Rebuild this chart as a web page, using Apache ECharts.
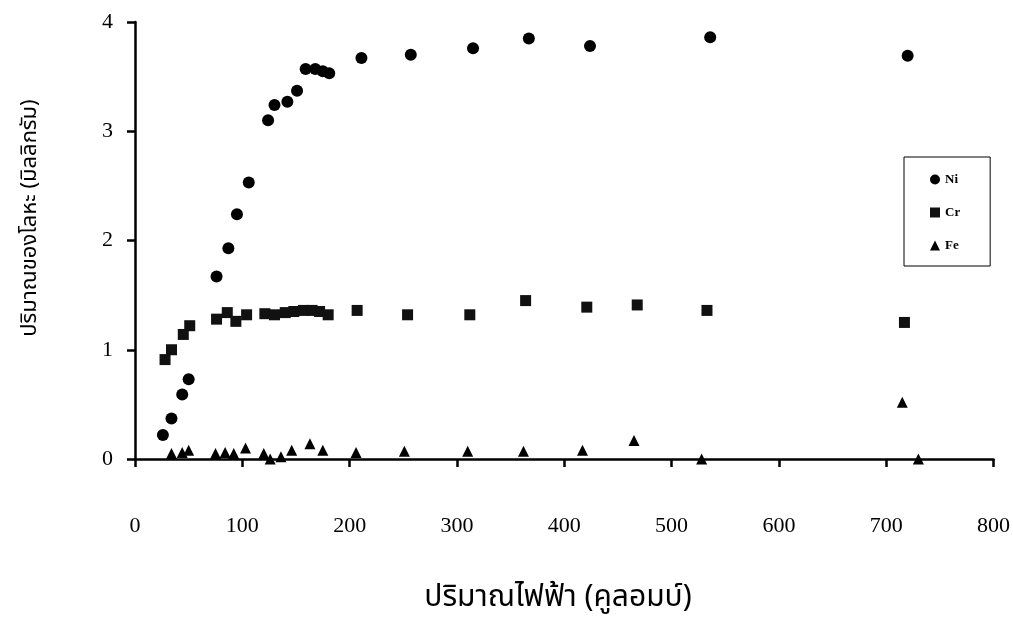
<!DOCTYPE html>
<html>
<head>
<meta charset="utf-8">
<script src="https://cdn.jsdelivr.net/npm/echarts@6/dist/echarts.min.js"></script>
<style>
  html, body { margin: 0; padding: 0; background: #fff; }
  #chart { width: 1013px; height: 618px; }
</style>
</head>
<body>
<div id="chart"></div>
<script>
// Ni (circles)
const niX = [26, 34, 44, 50, 76, 87, 95, 106, 124, 130, 142, 151, 159, 168, 175, 181, 211, 257, 315, 367, 424, 536, 720]
const niY = [0.22, 0.37, 0.59, 0.73, 1.67, 1.93, 2.24, 2.53, 3.10, 3.24, 3.27, 3.37, 3.57, 3.57, 3.55, 3.53, 3.67, 3.70, 3.76, 3.85, 3.78, 3.86, 3.69]
// Cr (squares)
const crX = [28, 34, 45, 51, 76, 86, 94, 104, 121, 130, 140, 148, 157, 165, 172, 180, 207, 254, 312, 364, 421, 468, 533, 717]
const crY = [0.91, 1.00, 1.14, 1.22, 1.28, 1.34, 1.26, 1.32, 1.33, 1.32, 1.34, 1.35, 1.36, 1.36, 1.35, 1.32, 1.36, 1.32, 1.32, 1.45, 1.39, 1.41, 1.36, 1.25]
// Fe (triangles)
const feX = [34, 44, 50, 75, 84, 92, 103, 120, 126, 136, 146, 163, 175, 206, 251, 310, 362, 417, 465, 528, 715, 730]
const feY = [0.05, 0.06, 0.08, 0.05, 0.06, 0.05, 0.10, 0.05, 0.00, 0.02, 0.08, 0.14, 0.08, 0.06, 0.07, 0.07, 0.07, 0.08, 0.17, 0.00, 0.52, 0.00]

const xTitle = 'ปริมาณไฟฟ้า (คูลอมบ์)'
const yTitle = 'ปริมาณของโลหะ (มิลลิกรัม)'

const pairs = (xs, ys) => xs.map((x, i) => [x, ys[i]])

const chart = echarts.init(document.getElementById('chart'))

const tickFont = {
  fontFamily: 'Liberation Serif, Times New Roman, serif',
  fontSize: 22,
  color: '#000'
}
const thaiFont = "'Noto Sans Thai', 'Noto Serif Thai', Loma, Garuda, 'Noto Sans', sans-serif"

const option = {
  backgroundColor: '#fff',
  animation: false,
  grid: { left: 135, right: 18, top: 22, bottom: 159 },
  legend: {
    orient: 'vertical',
    left: 904,
    top: 157,
    padding: [16, 30, 14, 26],
    itemGap: 20,
    itemWidth: 10,
    itemHeight: 10,
    borderColor: '#000',
    borderWidth: 1,
    textStyle: {
      fontFamily: 'Liberation Serif, serif',
      fontWeight: 'bold',
      fontSize: 13,
      color: '#000'
    },
    data: ['Ni', 'Cr', 'Fe']
  },
  graphic: [
    {
      type: 'text', x: 558, y: 600,
      style: {
        text: xTitle, font: '30px ' + thaiFont, fill: '#000',
        textAlign: 'center', textVerticalAlign: 'middle'
      }
    },
    {
      type: 'text', x: 32, y: 218, rotation: Math.PI / 2,
      style: {
        text: yTitle, font: '22px ' + thaiFont, fill: '#000',
        textAlign: 'center', textVerticalAlign: 'middle'
      }
    }
  ],
  xAxis: {
    type: 'value',
    min: 0,
    max: 800,
    interval: 100,
    splitLine: { show: false },
    axisLine: { lineStyle: { color: '#000', width: 2.5 } },
    axisTick: { length: 8, lineStyle: { color: '#000', width: 2.5 } },
    axisLabel: Object.assign({ margin: 56 }, tickFont)
  },
  yAxis: {
    type: 'value',
    min: 0,
    max: 4,
    interval: 1,
    splitLine: { show: false },
    axisLine: { lineStyle: { color: '#000', width: 2.5 } },
    axisTick: { length: 8, lineStyle: { color: '#000', width: 2.5 } },
    axisLabel: Object.assign({ margin: 22 }, tickFont)
  },
  series: [
    {
      name: 'Ni', type: 'scatter', symbol: 'circle', symbolSize: 12,
      itemStyle: { color: '#000', opacity: 1 },
      data: pairs(niX, niY)
    },
    {
      name: 'Cr', type: 'scatter', symbol: 'rect', symbolSize: 11,
      itemStyle: { color: '#111', opacity: 1 },
      data: pairs(crX, crY)
    },
    {
      name: 'Fe', type: 'scatter', symbol: 'triangle', symbolSize: 11,
      itemStyle: { color: '#000', opacity: 1 },
      data: pairs(feX, feY)
    }
  ]
}

chart.setOption(option)
</script>
</body>
</html>
